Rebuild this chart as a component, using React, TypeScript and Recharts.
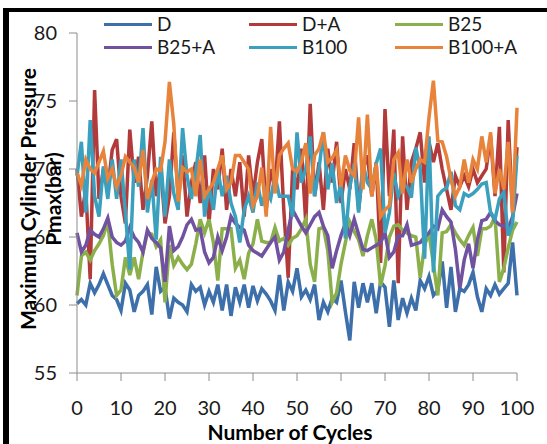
import React from 'react';
import { LineChart, Line, XAxis, YAxis } from 'recharts';

// x categories: cycle number 0..100
const cycles = Array.from({ length: 101 }, (_, i) => i);

const seriesNames = ['D', 'D+A', 'B25', 'B25+A', 'B100', 'B100+A'];
const seriesColors = ['#3D6FAA', '#B23A3A', '#8BB04B', '#7152A0', '#3AA0BD', '#E7833A'];

const xTicks = [0, 10, 20, 30, 40, 50, 60, 70, 80, 90, 100];
const yTicks = [55, 60, 65, 70, 75, 80];

const dVals = [
  60.1, 60.4, 60.0, 61.6, 60.9, 61.5, 62.3, 61.5, 60.7, 60.4,
  59.6, 61.6, 61.1, 59.5, 60.7, 61.0, 61.5, 59.3, 62.8, 61.0,
  61.3, 59.0, 60.5, 60.2, 60.0, 59.5, 61.5, 61.0, 61.3, 60.0,
  61.0, 60.2, 61.5, 59.6, 61.5, 59.2, 61.3, 60.2, 61.5, 59.8,
  61.4, 60.3, 61.2, 60.8, 60.3, 59.6, 62.2, 59.6, 61.7, 61.0,
  62.7, 60.6, 61.1, 60.4, 61.5, 58.9, 60.2, 59.5, 60.5, 60.2,
  61.8, 59.5, 57.4, 61.7, 59.8, 61.6, 60.2, 61.6, 59.4, 61.7,
  61.3, 58.4, 61.8, 58.9, 60.5, 59.4, 60.5, 59.6, 61.8, 61.2,
  62.1, 60.7, 61.1, 63.2, 59.8, 62.8, 59.5, 61.2, 61.0, 61.5,
  62.4, 60.6, 59.5, 61.2, 60.7, 61.5, 60.8, 61.2, 61.6, 64.6,
  60.7,
];

const daVals = [
  70.0, 66.5, 68.5, 61.9, 75.8, 67.8, 70.0, 68.5, 71.4, 72.2,
  68.0, 66.0, 72.9, 69.0, 70.9, 67.0, 69.5, 73.5, 68.0, 70.2,
  66.0, 68.0, 72.7, 68.0, 71.0, 66.5, 69.0, 70.5, 67.5, 71.0,
  66.0, 70.0, 68.5, 71.5, 67.0, 70.0, 68.0, 70.5, 66.5, 71.0,
  68.0, 70.5, 72.2, 67.0, 70.0, 68.5, 73.5, 67.0, 62.0, 70.0,
  68.5, 71.5, 66.0, 74.8, 68.0, 70.5, 67.0, 71.5, 69.0, 72.0,
  67.5, 70.0, 68.5, 71.9, 67.0, 70.0, 71.0, 68.0, 70.5, 63.1,
  74.4, 68.0, 72.9, 61.6, 72.4, 67.0, 70.5, 71.5, 72.7, 69.0,
  72.0, 70.5, 71.9, 70.0, 68.5, 67.0, 69.5, 68.7, 69.5, 68.7,
  70.0, 69.0, 69.5, 70.0, 72.4, 68.0, 73.1, 62.4, 73.6, 66.8,
  71.6,
];

const b25Vals = [
  60.7, 63.6, 63.9, 63.3, 64.0, 64.5, 65.1, 66.1, 63.0, 60.7,
  61.1, 63.5, 62.2, 63.5, 61.9, 63.9, 65.3, 65.2, 64.3, 64.8,
  60.2, 64.4, 62.9, 63.5, 63.0, 62.6, 63.0, 64.5, 66.3, 65.3,
  66.3, 64.6, 61.8, 65.6, 65.6, 65.6, 62.7, 63.3, 61.9, 63.8,
  64.5, 66.3, 64.7, 64.6, 64.6, 65.7, 64.7, 64.9, 64.4, 64.9,
  65.1, 65.6, 66.3, 63.0, 61.7, 65.6, 65.7, 64.0, 60.2, 60.9,
  63.0, 64.6, 66.1, 65.4, 64.8, 63.6, 65.1, 66.3, 64.8, 61.4,
  62.9, 65.0, 65.8, 65.9, 65.5, 65.3, 65.1, 65.0, 62.0, 64.4,
  65.3, 63.0, 60.7, 65.3, 65.4, 65.9, 65.3, 64.8, 64.4, 65.1,
  65.7, 63.6, 65.6, 65.6, 65.8, 66.5, 61.7, 62.7, 64.2, 65.5,
  66.1,
];

const b25aVals = [
  65.3, 63.9, 64.4, 65.5, 65.2, 65.0, 65.6, 66.4, 65.0, 64.6,
  64.4, 64.7, 65.7, 65.0, 64.6, 63.9, 65.5, 64.9, 64.6, 64.2,
  61.7, 65.8, 64.0, 64.3, 65.0, 65.9, 66.3, 65.5, 65.6, 63.9,
  63.1, 63.5, 65.0, 64.0, 65.0, 66.5, 66.0, 65.7, 65.5, 64.4,
  64.0, 63.8, 63.6, 64.1, 64.6, 65.0, 63.3, 63.9, 65.5, 67.0,
  66.4, 65.8, 65.3, 65.9, 66.5, 66.8, 65.8, 65.1, 62.7, 64.0,
  65.1, 66.0, 65.1, 66.3, 65.2, 64.1, 64.0, 64.2, 64.4, 64.6,
  65.3, 63.5, 63.9, 65.1, 65.1, 65.9, 64.4, 64.5, 64.6, 65.0,
  65.3, 65.8, 65.6, 67.0, 66.5, 66.1, 64.1, 61.2, 63.3, 64.5,
  62.7, 64.8, 66.2, 66.3, 66.8, 66.2, 65.9, 65.8, 65.6, 66.5,
  68.2,
];

const b100Vals = [
  69.5, 72.0, 66.8, 73.6, 68.0, 66.5, 70.2, 67.8, 70.7, 67.8,
  70.7, 66.8, 62.6, 70.7, 68.7, 73.0, 66.8, 69.2, 64.8, 70.9,
  66.5, 70.7, 68.2, 67.0, 73.0, 69.5, 67.8, 69.8, 72.5, 66.5,
  68.7, 67.0, 70.0, 68.0, 69.5, 67.5, 66.5, 64.6, 67.0, 68.0,
  66.8, 69.0, 67.3, 68.5, 67.8, 69.5, 68.0, 68.0, 68.0, 66.5,
  72.7, 69.0, 70.0, 72.4, 68.0, 70.0, 72.7, 68.5, 70.4, 67.5,
  69.0, 64.9, 68.7, 70.4, 66.8, 70.4, 69.0, 68.5, 70.4, 71.5,
  65.3, 66.8, 69.7, 68.0, 68.8, 68.7, 67.9, 71.6, 70.0, 63.4,
  72.4, 62.4, 68.0, 68.4, 68.6, 69.8, 67.3, 67.0, 68.2, 68.0,
  68.2, 68.5, 68.9, 69.0, 66.8, 66.3, 67.8, 68.3, 65.1, 66.0,
  71.0,
];

const b100aVals = [
  69.7, 68.8, 70.7, 70.0, 69.7, 70.5, 71.3, 69.3, 70.0, 68.7,
  69.5, 70.9, 70.5, 70.1, 69.0, 71.4, 67.8, 69.0, 70.0, 69.9,
  72.0, 76.4, 73.3, 67.6, 70.1, 69.8, 70.0, 68.0, 70.7, 68.0,
  68.5, 69.0, 70.0, 71.0, 68.5, 69.0, 71.0, 71.0, 70.5, 70.0,
  67.3, 68.0, 70.1, 66.5, 73.1, 68.2, 71.0, 71.5, 71.9, 70.0,
  69.8, 70.5, 71.9, 68.2, 71.0, 71.5, 72.7, 70.5, 70.8, 71.4,
  68.7, 71.0, 69.9, 69.5, 73.8, 68.5, 74.0, 68.0, 70.4, 66.5,
  67.0, 67.3, 70.7, 71.2, 68.2, 70.7, 69.0, 70.0, 70.7, 70.5,
  73.8, 76.5, 72.1, 72.0, 70.9, 69.2, 68.0, 68.7, 70.7, 69.0,
  70.7, 70.0, 72.4, 70.5, 72.7, 68.2, 70.0, 68.5, 72.0, 66.8,
  74.5,
];

const seriesValues = [dVals, daVals, b25Vals, b25aVals, b100Vals, b100aVals];

const data = cycles.map((c, i) => {
  const row: Record<string, number> = { cycle: c };
  seriesNames.forEach((name, s) => {
    row[name] = seriesValues[s][i];
  });
  return row;
});

const font = 'Lato, "Open Sans", sans-serif';
const axisGray = '#8C8C8C';

// legend laid out in three columns, two rows
const legendCols = [104, 249, 395];
const legendRows = [24, 47];

export default function App() {
  return (
    <div
      style={{
        position: 'absolute',
        left: 0,
        top: 0,
        width: 547,
        height: 444,
        background: '#fff',
        overflow: 'hidden',
        fontFamily: font,
      }}
    >
      {/* outer frame: only top and left edges visible */}
      <div
        style={{
          position: 'absolute',
          left: 3,
          top: 8,
          width: 560,
          height: 460,
          borderTop: '4.5px solid #000',
          borderLeft: '6px solid #000',
          boxSizing: 'border-box',
        }}
      />

      <div style={{ position: 'absolute', left: 0, top: 0 }}>
        <LineChart
          width={547}
          height={444}
          data={data}
          margin={{ top: 33, right: 30, left: 0, bottom: 0 }}
        >
          <XAxis
            dataKey="cycle"
            type="number"
            domain={[0, 100]}
            ticks={xTicks}
            height={71}
            tickSize={8}
            tickMargin={20}
            stroke={axisGray}
            tick={{ fill: '#1a1a1a', fontSize: 20, fontFamily: font }}
          />
          <YAxis
            type="number"
            domain={[55, 80]}
            ticks={yTicks}
            width={77}
            tickSize={8}
            tickMargin={12}
            stroke={axisGray}
            tick={{ fill: '#1a1a1a', fontSize: 20, fontFamily: font }}
          />
          {seriesNames.map((name, s) => (
            <Line
              key={name}
              dataKey={name}
              stroke={seriesColors[s]}
              strokeWidth={3.5}
              dot={false}
              isAnimationActive={false}
              strokeLinejoin="miter"
            />
          ))}
        </LineChart>
      </div>

      {/* legend */}
      {seriesNames.map((name, s) => {
        const col = s % 3;
        const row = Math.floor(s / 3);
        return (
          <div
            key={name}
            style={{
              position: 'absolute',
              left: legendCols[col],
              top: legendRows[row] - 9,
              height: 18,
              lineHeight: '18px',
              display: 'flex',
              alignItems: 'center',
              fontSize: 19,
              color: '#1a1a1a',
              whiteSpace: 'nowrap',
            }}
          >
            <span
              style={{
                display: 'inline-block',
                width: 48,
                height: 3,
                background: seriesColors[s],
                marginRight: 5,
              }}
            />
            {name}
          </div>
        );
      })}

      {/* y axis title, two lines, rotated */}
      <div
        style={{
          position: 'absolute',
          left: 40,
          top: 199,
          transform: 'translate(-50%, -50%) rotate(-90deg)',
          fontWeight: 700,
          fontSize: 21,
          lineHeight: '25px',
          color: '#000',
          textAlign: 'center',
          whiteSpace: 'nowrap',
        }}
      >
        Maximum Cylinder Pressure
        <br />
        Pmax(bar)
      </div>

      {/* x axis title */}
      <div
        style={{
          position: 'absolute',
          left: 290,
          top: 432,
          transform: 'translate(-50%, -50%)',
          fontWeight: 700,
          fontSize: 21,
          lineHeight: '22px',
          color: '#000',
          whiteSpace: 'nowrap',
        }}
      >
        Number of Cycles
      </div>
    </div>
  );
}
